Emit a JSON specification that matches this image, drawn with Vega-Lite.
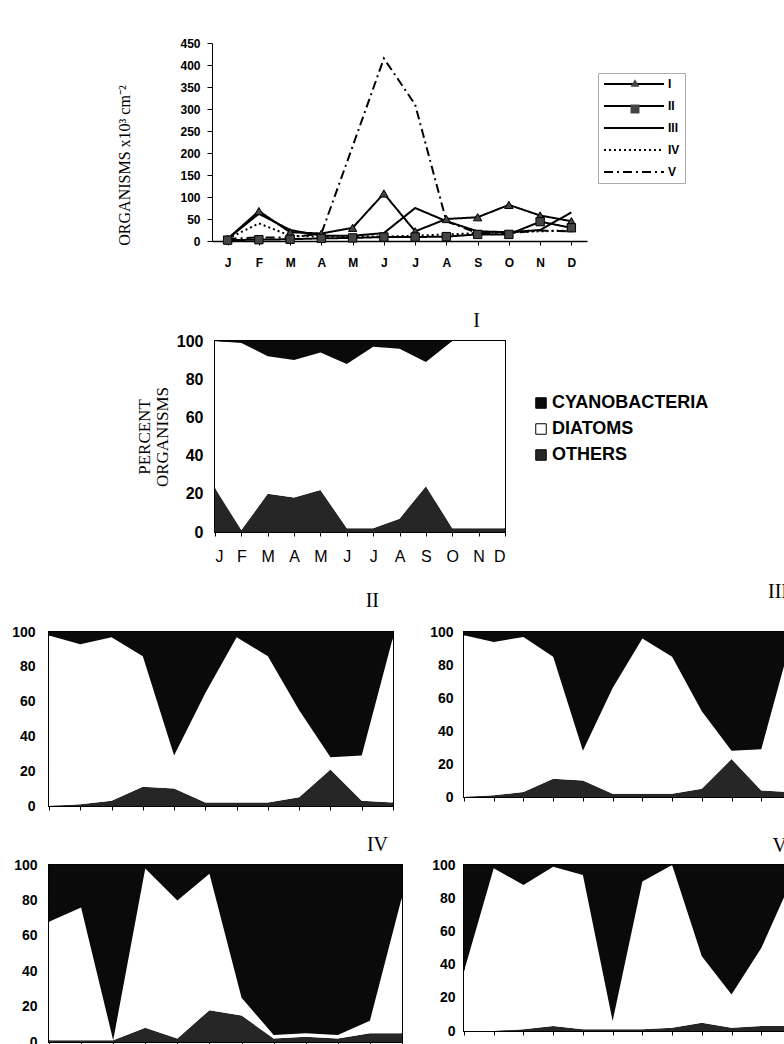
{
"$schema": "https://vega.github.io/schema/vega-lite/v6.json",
"background": "white",
"padding": {"left": 10, "top": 37, "right": 0, "bottom": 0},
"config": {
  "font": "Liberation Sans",
  "view": {"stroke": null},
  "axis": {"labelFont": "Liberation Sans", "labelFontWeight": "bold", "labelColor": "#000", "domainColor": "#000", "tickColor": "#000", "grid": false, "titleFont": "Liberation Serif", "titleFontWeight": "normal", "titleColor": "#000", "labelOverlap": false},
  "title": {"font": "Liberation Serif", "fontWeight": "normal", "fontSize": 20, "color": "#000", "anchor": "end", "frame": "group"}
},
"datasets": {
  "lines": [
    {"s":"I","m":1,"v":5},{"s":"I","m":2,"v":68},{"s":"I","m":3,"v":20},{"s":"I","m":4,"v":17},{"s":"I","m":5,"v":30},{"s":"I","m":6,"v":108},{"s":"I","m":7,"v":22},{"s":"I","m":8,"v":50},{"s":"I","m":9,"v":54},{"s":"I","m":10,"v":82},{"s":"I","m":11,"v":58},{"s":"I","m":12,"v":45},
    {"s":"II","m":1,"v":2},{"s":"II","m":2,"v":3},{"s":"II","m":3,"v":4},{"s":"II","m":4,"v":6},{"s":"II","m":5,"v":7},{"s":"II","m":6,"v":9},{"s":"II","m":7,"v":9},{"s":"II","m":8,"v":10},{"s":"II","m":9,"v":15},{"s":"II","m":10,"v":15},{"s":"II","m":11,"v":44},{"s":"II","m":12,"v":30},
    {"s":"III","m":1,"v":5},{"s":"III","m":2,"v":62},{"s":"III","m":3,"v":25},{"s":"III","m":4,"v":12},{"s":"III","m":5,"v":12},{"s":"III","m":6,"v":18},{"s":"III","m":7,"v":75},{"s":"III","m":8,"v":45},{"s":"III","m":9,"v":22},{"s":"III","m":10,"v":20},{"s":"III","m":11,"v":25},{"s":"III","m":12,"v":65},
    {"s":"IV","m":1,"v":5},{"s":"IV","m":2,"v":40},{"s":"IV","m":3,"v":12},{"s":"IV","m":4,"v":10},{"s":"IV","m":5,"v":10},{"s":"IV","m":6,"v":10},{"s":"IV","m":7,"v":12},{"s":"IV","m":8,"v":15},{"s":"IV","m":9,"v":18},{"s":"IV","m":10,"v":20},{"s":"IV","m":11,"v":22},{"s":"IV","m":12,"v":24},
    {"s":"V","m":1,"v":5},{"s":"V","m":2,"v":8},{"s":"V","m":3,"v":8},{"s":"V","m":4,"v":17},{"s":"V","m":5,"v":215},{"s":"V","m":6,"v":415},{"s":"V","m":7,"v":310},{"s":"V","m":8,"v":45},{"s":"V","m":9,"v":18},{"s":"V","m":10,"v":18},{"s":"V","m":11,"v":24},{"s":"V","m":12,"v":22}
  ],
  "comp": [
    {"p":"I","m":1,"k":"OTHERS","v":23},{"p":"I","m":1,"k":"DIATOMS","v":77},{"p":"I","m":1,"k":"CYANOBACTERIA","v":0},
    {"p":"I","m":2,"k":"OTHERS","v":1},{"p":"I","m":2,"k":"DIATOMS","v":98},{"p":"I","m":2,"k":"CYANOBACTERIA","v":1},
    {"p":"I","m":3,"k":"OTHERS","v":20},{"p":"I","m":3,"k":"DIATOMS","v":72},{"p":"I","m":3,"k":"CYANOBACTERIA","v":8},
    {"p":"I","m":4,"k":"OTHERS","v":18},{"p":"I","m":4,"k":"DIATOMS","v":72},{"p":"I","m":4,"k":"CYANOBACTERIA","v":10},
    {"p":"I","m":5,"k":"OTHERS","v":22},{"p":"I","m":5,"k":"DIATOMS","v":72},{"p":"I","m":5,"k":"CYANOBACTERIA","v":6},
    {"p":"I","m":6,"k":"OTHERS","v":2},{"p":"I","m":6,"k":"DIATOMS","v":86},{"p":"I","m":6,"k":"CYANOBACTERIA","v":12},
    {"p":"I","m":7,"k":"OTHERS","v":2},{"p":"I","m":7,"k":"DIATOMS","v":95},{"p":"I","m":7,"k":"CYANOBACTERIA","v":3},
    {"p":"I","m":8,"k":"OTHERS","v":7},{"p":"I","m":8,"k":"DIATOMS","v":89},{"p":"I","m":8,"k":"CYANOBACTERIA","v":4},
    {"p":"I","m":9,"k":"OTHERS","v":24},{"p":"I","m":9,"k":"DIATOMS","v":65},{"p":"I","m":9,"k":"CYANOBACTERIA","v":11},
    {"p":"I","m":10,"k":"OTHERS","v":2},{"p":"I","m":10,"k":"DIATOMS","v":98},{"p":"I","m":10,"k":"CYANOBACTERIA","v":0},
    {"p":"I","m":11,"k":"OTHERS","v":2},{"p":"I","m":11,"k":"DIATOMS","v":98},{"p":"I","m":11,"k":"CYANOBACTERIA","v":0},
    {"p":"I","m":12,"k":"OTHERS","v":2},{"p":"I","m":12,"k":"DIATOMS","v":98},{"p":"I","m":12,"k":"CYANOBACTERIA","v":0},

    {"p":"II","m":1,"k":"OTHERS","v":0},{"p":"II","m":1,"k":"DIATOMS","v":98},{"p":"II","m":1,"k":"CYANOBACTERIA","v":2},
    {"p":"II","m":2,"k":"OTHERS","v":1},{"p":"II","m":2,"k":"DIATOMS","v":92},{"p":"II","m":2,"k":"CYANOBACTERIA","v":7},
    {"p":"II","m":3,"k":"OTHERS","v":3},{"p":"II","m":3,"k":"DIATOMS","v":94},{"p":"II","m":3,"k":"CYANOBACTERIA","v":3},
    {"p":"II","m":4,"k":"OTHERS","v":11},{"p":"II","m":4,"k":"DIATOMS","v":75},{"p":"II","m":4,"k":"CYANOBACTERIA","v":14},
    {"p":"II","m":5,"k":"OTHERS","v":10},{"p":"II","m":5,"k":"DIATOMS","v":19},{"p":"II","m":5,"k":"CYANOBACTERIA","v":71},
    {"p":"II","m":6,"k":"OTHERS","v":2},{"p":"II","m":6,"k":"DIATOMS","v":63},{"p":"II","m":6,"k":"CYANOBACTERIA","v":35},
    {"p":"II","m":7,"k":"OTHERS","v":2},{"p":"II","m":7,"k":"DIATOMS","v":95},{"p":"II","m":7,"k":"CYANOBACTERIA","v":3},
    {"p":"II","m":8,"k":"OTHERS","v":2},{"p":"II","m":8,"k":"DIATOMS","v":84},{"p":"II","m":8,"k":"CYANOBACTERIA","v":14},
    {"p":"II","m":9,"k":"OTHERS","v":5},{"p":"II","m":9,"k":"DIATOMS","v":50},{"p":"II","m":9,"k":"CYANOBACTERIA","v":45},
    {"p":"II","m":10,"k":"OTHERS","v":21},{"p":"II","m":10,"k":"DIATOMS","v":7},{"p":"II","m":10,"k":"CYANOBACTERIA","v":72},
    {"p":"II","m":11,"k":"OTHERS","v":3},{"p":"II","m":11,"k":"DIATOMS","v":26},{"p":"II","m":11,"k":"CYANOBACTERIA","v":71},
    {"p":"II","m":12,"k":"OTHERS","v":2},{"p":"II","m":12,"k":"DIATOMS","v":95},{"p":"II","m":12,"k":"CYANOBACTERIA","v":3},

    {"p":"III","m":1,"k":"OTHERS","v":0},{"p":"III","m":1,"k":"DIATOMS","v":98},{"p":"III","m":1,"k":"CYANOBACTERIA","v":2},
    {"p":"III","m":2,"k":"OTHERS","v":1},{"p":"III","m":2,"k":"DIATOMS","v":93},{"p":"III","m":2,"k":"CYANOBACTERIA","v":6},
    {"p":"III","m":3,"k":"OTHERS","v":3},{"p":"III","m":3,"k":"DIATOMS","v":94},{"p":"III","m":3,"k":"CYANOBACTERIA","v":3},
    {"p":"III","m":4,"k":"OTHERS","v":11},{"p":"III","m":4,"k":"DIATOMS","v":74},{"p":"III","m":4,"k":"CYANOBACTERIA","v":15},
    {"p":"III","m":5,"k":"OTHERS","v":10},{"p":"III","m":5,"k":"DIATOMS","v":18},{"p":"III","m":5,"k":"CYANOBACTERIA","v":72},
    {"p":"III","m":6,"k":"OTHERS","v":2},{"p":"III","m":6,"k":"DIATOMS","v":64},{"p":"III","m":6,"k":"CYANOBACTERIA","v":34},
    {"p":"III","m":7,"k":"OTHERS","v":2},{"p":"III","m":7,"k":"DIATOMS","v":94},{"p":"III","m":7,"k":"CYANOBACTERIA","v":4},
    {"p":"III","m":8,"k":"OTHERS","v":2},{"p":"III","m":8,"k":"DIATOMS","v":83},{"p":"III","m":8,"k":"CYANOBACTERIA","v":15},
    {"p":"III","m":9,"k":"OTHERS","v":5},{"p":"III","m":9,"k":"DIATOMS","v":47},{"p":"III","m":9,"k":"CYANOBACTERIA","v":48},
    {"p":"III","m":10,"k":"OTHERS","v":23},{"p":"III","m":10,"k":"DIATOMS","v":5},{"p":"III","m":10,"k":"CYANOBACTERIA","v":72},
    {"p":"III","m":11,"k":"OTHERS","v":4},{"p":"III","m":11,"k":"DIATOMS","v":25},{"p":"III","m":11,"k":"CYANOBACTERIA","v":71},
    {"p":"III","m":12,"k":"OTHERS","v":3},{"p":"III","m":12,"k":"DIATOMS","v":92},{"p":"III","m":12,"k":"CYANOBACTERIA","v":5},

    {"p":"IV","m":1,"k":"OTHERS","v":1},{"p":"IV","m":1,"k":"DIATOMS","v":67},{"p":"IV","m":1,"k":"CYANOBACTERIA","v":32},
    {"p":"IV","m":2,"k":"OTHERS","v":1},{"p":"IV","m":2,"k":"DIATOMS","v":75},{"p":"IV","m":2,"k":"CYANOBACTERIA","v":24},
    {"p":"IV","m":3,"k":"OTHERS","v":1},{"p":"IV","m":3,"k":"DIATOMS","v":0},{"p":"IV","m":3,"k":"CYANOBACTERIA","v":99},
    {"p":"IV","m":4,"k":"OTHERS","v":8},{"p":"IV","m":4,"k":"DIATOMS","v":90},{"p":"IV","m":4,"k":"CYANOBACTERIA","v":2},
    {"p":"IV","m":5,"k":"OTHERS","v":2},{"p":"IV","m":5,"k":"DIATOMS","v":78},{"p":"IV","m":5,"k":"CYANOBACTERIA","v":20},
    {"p":"IV","m":6,"k":"OTHERS","v":18},{"p":"IV","m":6,"k":"DIATOMS","v":77},{"p":"IV","m":6,"k":"CYANOBACTERIA","v":5},
    {"p":"IV","m":7,"k":"OTHERS","v":15},{"p":"IV","m":7,"k":"DIATOMS","v":10},{"p":"IV","m":7,"k":"CYANOBACTERIA","v":75},
    {"p":"IV","m":8,"k":"OTHERS","v":2},{"p":"IV","m":8,"k":"DIATOMS","v":2},{"p":"IV","m":8,"k":"CYANOBACTERIA","v":96},
    {"p":"IV","m":9,"k":"OTHERS","v":3},{"p":"IV","m":9,"k":"DIATOMS","v":2},{"p":"IV","m":9,"k":"CYANOBACTERIA","v":95},
    {"p":"IV","m":10,"k":"OTHERS","v":2},{"p":"IV","m":10,"k":"DIATOMS","v":2},{"p":"IV","m":10,"k":"CYANOBACTERIA","v":96},
    {"p":"IV","m":11,"k":"OTHERS","v":5},{"p":"IV","m":11,"k":"DIATOMS","v":7},{"p":"IV","m":11,"k":"CYANOBACTERIA","v":88},
    {"p":"IV","m":12,"k":"OTHERS","v":5},{"p":"IV","m":12,"k":"DIATOMS","v":77},{"p":"IV","m":12,"k":"CYANOBACTERIA","v":18},

    {"p":"V","m":1,"k":"OTHERS","v":0},{"p":"V","m":1,"k":"DIATOMS","v":36},{"p":"V","m":1,"k":"CYANOBACTERIA","v":64},
    {"p":"V","m":2,"k":"OTHERS","v":0},{"p":"V","m":2,"k":"DIATOMS","v":98},{"p":"V","m":2,"k":"CYANOBACTERIA","v":2},
    {"p":"V","m":3,"k":"OTHERS","v":1},{"p":"V","m":3,"k":"DIATOMS","v":87},{"p":"V","m":3,"k":"CYANOBACTERIA","v":12},
    {"p":"V","m":4,"k":"OTHERS","v":3},{"p":"V","m":4,"k":"DIATOMS","v":96},{"p":"V","m":4,"k":"CYANOBACTERIA","v":1},
    {"p":"V","m":5,"k":"OTHERS","v":1},{"p":"V","m":5,"k":"DIATOMS","v":93},{"p":"V","m":5,"k":"CYANOBACTERIA","v":6},
    {"p":"V","m":6,"k":"OTHERS","v":1},{"p":"V","m":6,"k":"DIATOMS","v":5},{"p":"V","m":6,"k":"CYANOBACTERIA","v":94},
    {"p":"V","m":7,"k":"OTHERS","v":1},{"p":"V","m":7,"k":"DIATOMS","v":89},{"p":"V","m":7,"k":"CYANOBACTERIA","v":10},
    {"p":"V","m":8,"k":"OTHERS","v":2},{"p":"V","m":8,"k":"DIATOMS","v":98},{"p":"V","m":8,"k":"CYANOBACTERIA","v":0},
    {"p":"V","m":9,"k":"OTHERS","v":5},{"p":"V","m":9,"k":"DIATOMS","v":40},{"p":"V","m":9,"k":"CYANOBACTERIA","v":55},
    {"p":"V","m":10,"k":"OTHERS","v":2},{"p":"V","m":10,"k":"DIATOMS","v":20},{"p":"V","m":10,"k":"CYANOBACTERIA","v":78},
    {"p":"V","m":11,"k":"OTHERS","v":3},{"p":"V","m":11,"k":"DIATOMS","v":47},{"p":"V","m":11,"k":"CYANOBACTERIA","v":50},
    {"p":"V","m":12,"k":"OTHERS","v":3},{"p":"V","m":12,"k":"DIATOMS","v":87},{"p":"V","m":12,"k":"CYANOBACTERIA","v":10}
  ]
},
"resolve": {"scale": {"fill": "independent"}, "legend": {"fill": "independent"}},
"spacing": 20,
"vconcat": [
  {
    "spacing": 16,
    "resolve": {"scale": {"fill": "independent"}, "legend": {"fill": "independent"}},
    "vconcat": [
      {
        "spacing": 0,
        "resolve": {"scale": {"strokeDash": "independent", "shape": "independent"}, "legend": {"strokeDash": "independent", "shape": "independent"}},
        "hconcat": [
          {"width": 67, "height": 251, "data": {"values": []}, "mark": {"type": "point", "opacity": 0}},
          {
            "width": 375, "height": 198,
            "data": {"name": "lines"},
            "encoding": {
              "x": {"field": "m", "type": "ordinal", "scale": {"type": "point", "padding": 0.5},
                    "axis": {"title": null, "labelAngle": 0, "labelFontSize": 12, "tickSize": 4, "labelPadding": 12, "domainWidth": 1.5,
                             "labelExpr": "['J','F','M','A','M','J','J','A','S','O','N','D'][datum.value-1]"}},
              "y": {"field": "v", "type": "quantitative", "scale": {"domain": [0, 450], "nice": false},
                    "axis": {"title": "ORGANISMS x10³ cm⁻²", "titleFontSize": 16, "titlePadding": 47, "titleY": 122,
                             "values": [0,50,100,150,200,250,300,350,400,450], "labelOverlap": false, "labelFontSize": 12, "tickSize": 5, "labelPadding": 7}}
            },
            "layer": [
              {
                "mark": {"type": "line", "color": "#000", "strokeWidth": 2},
                "encoding": {
                  "strokeDash": {"field": "s", "type": "nominal",
                        "scale": {"domain": ["I","II","III","IV","V"], "range": [[1,0],[1,0],[1,0],[2,3],[9,4,2,4]]},
                        "legend": {"orient": "none", "legendX": 386, "legendY": 30, "title": null,
                                   "symbolType": "M-6,0H6", "symbolSize": 100, "symbolOffset": 25, "symbolStrokeWidth": 2, "symbolStrokeColor": "#000",
                                   "labelFont": "Liberation Sans", "labelFontSize": 12, "labelFontWeight": "bold", "labelColor": "#000",
                                   "rowPadding": 10, "labelOffset": 28, "padding": 5, "strokeColor": "#aaa"}}
                }
              },
              {
                "transform": [{"filter": "datum.s == 'I' || datum.s == 'II'"}],
                "mark": {"type": "point", "filled": true, "fill": "#444", "stroke": "#000", "strokeWidth": 1, "size": 70, "opacity": 1},
                "encoding": {
                  "shape": {"field": "s", "type": "nominal", "scale": {"domain": ["I","II"], "range": ["triangle-up","square"]},
                            "legend": {"orient": "none", "legendX": 413, "legendY": 30, "title": null, "labelExpr": "''",
                                       "symbolSize": 80, "symbolFillColor": "#444", "symbolStrokeColor": "#000", "symbolStrokeWidth": 1,
                                       "rowPadding": 13, "padding": 5}}
                }
              }
            ]
          }
        ]
      },
      {
        "spacing": 0,
        "resolve": {"scale": {"fill": "independent"}, "legend": {"fill": "independent"}},
        "hconcat": [
          {"width": 85, "height": 1, "data": {"values": []}, "mark": {"type": "point", "opacity": 0}},
          {
            "width": 290, "height": 191,
            "data": {"name": "comp"},
            "transform": [{"filter": "datum.p == 'I'"}],
            "title": {"text": "I", "offset": 2, "dx": -25},
            "view": {"stroke": "#000", "strokeWidth": 2},
            "mark": {"type": "area"},
            "encoding": {
              "x": {"field": "m", "type": "quantitative", "scale": {"domain": [1, 12], "nice": false},
                    "axis": {"title": null, "values": [1,2,3,4,5,6,7,8,9,10,11,12], "labelFontSize": 16, "labelFontWeight": "normal", "tickSize": 4, "labelPadding": 12, "domain": false,
                             "labelExpr": "['J','F','M','A','M','J','J','A','S','O','N','D'][datum.value-1]"}},
              "y": {"field": "v", "type": "quantitative", "stack": "zero", "scale": {"domain": [0, 100], "nice": false},
                    "axis": {"title": ["PERCENT", "ORGANISMS"], "titleFontSize": 17, "titleLineHeight": 18, "titlePadding": 5,
                             "values": [0,20,40,60,80,100], "labelFontSize": 16, "ticks": false, "labelPadding": 12, "domain": false}},
              "fill": {"field": "k", "type": "nominal",
                       "scale": {"domain": ["CYANOBACTERIA","DIATOMS","OTHERS"], "range": ["#0a0a0a","#ffffff","#262626"]},
                       "legend": {"orient": "none", "legendX": 317, "legendY": 53, "title": null, "symbolType": "square", "symbolSize": 110,
                                  "symbolStrokeColor": "#000", "symbolStrokeWidth": 1, "labelFont": "Liberation Sans", "labelFontSize": 18,
                                  "labelFontWeight": "bold", "labelColor": "#000", "rowPadding": 8, "labelOffset": 2, "padding": 0}},
              "order": {"field": "k", "sort": "descending"}
            }
          }
        ]
      },
      {
        "spacing": 33,
        "hconcat": [
          {
            "width": 344, "height": 174,
            "data": {"name": "comp"},
            "transform": [{"filter": "datum.p == 'II'"}],
            "title": {"text": "II", "offset": 14, "dx": -14},
            "view": {"stroke": "#000", "strokeWidth": 2},
            "mark": {"type": "area"},
            "encoding": {
              "x": {"field": "m", "type": "quantitative", "scale": {"domain": [1, 12], "nice": false},
                    "axis": {"title": null, "values": [1,2,3,4,5,6,7,8,9,10,11,12], "labels": false, "tickSize": 4, "domain": false}},
              "y": {"field": "v", "type": "quantitative", "stack": "zero", "scale": {"domain": [0, 100], "nice": false},
                    "axis": {"title": null, "values": [0,20,40,60,80,100], "labelFontSize": 14, "ticks": false, "labelPadding": 14, "domain": false}},
              "fill": {"field": "k", "type": "nominal", "scale": {"domain": ["CYANOBACTERIA","DIATOMS","OTHERS"], "range": ["#0a0a0a","#ffffff","#262626"]}, "legend": null},
              "order": {"field": "k", "sort": "descending"}
            }
          },
          {
            "width": 327, "height": 165,
            "data": {"name": "comp"},
            "transform": [{"filter": "datum.p == 'III'"}],
            "title": {"text": "III", "offset": 23, "dx": -3},
            "view": {"stroke": "#000", "strokeWidth": 2},
            "mark": {"type": "area"},
            "encoding": {
              "x": {"field": "m", "type": "quantitative", "scale": {"domain": [1, 12], "nice": false},
                    "axis": {"title": null, "values": [1,2,3,4,5,6,7,8,9,10,11,12], "labels": false, "tickSize": 4, "domain": false}},
              "y": {"field": "v", "type": "quantitative", "stack": "zero", "scale": {"domain": [0, 100], "nice": false},
                    "axis": {"title": null, "values": [0,20,40,60,80,100], "labelFontSize": 14, "ticks": false, "labelPadding": 11, "domain": false}},
              "fill": {"field": "k", "type": "nominal", "scale": {"domain": ["CYANOBACTERIA","DIATOMS","OTHERS"], "range": ["#0a0a0a","#ffffff","#262626"]}, "legend": null},
              "order": {"field": "k", "sort": "descending"}
            }
          }
        ]
      }
    ]
  },
  {
    "spacing": 26,
    "hconcat": [
      {
        "width": 353, "height": 177,
        "data": {"name": "comp"},
        "transform": [{"filter": "datum.p == 'IV'"}],
        "title": {"text": "IV", "offset": 3, "dx": -14},
        "view": {"stroke": "#000", "strokeWidth": 2},
        "mark": {"type": "area"},
        "encoding": {
          "x": {"field": "m", "type": "quantitative", "scale": {"domain": [1, 12], "nice": false},
                "axis": {"title": null, "values": [1,2,3,4,5,6,7,8,9,10,11,12], "labels": false, "tickSize": 4, "domain": false}},
          "y": {"field": "v", "type": "quantitative", "stack": "zero", "scale": {"domain": [0, 100], "nice": false},
                "axis": {"title": null, "values": [0,20,40,60,80,100], "labelFontSize": 14, "ticks": false, "labelPadding": 12, "domain": false}},
          "fill": {"field": "k", "type": "nominal", "scale": {"domain": ["CYANOBACTERIA","DIATOMS","OTHERS"], "range": ["#0a0a0a","#ffffff","#262626"]}, "legend": null},
          "order": {"field": "k", "sort": "descending"}
        }
      },
      {
        "width": 327, "height": 166,
        "data": {"name": "comp"},
        "transform": [{"filter": "datum.p == 'V'"}],
        "title": {"text": "V", "offset": 2, "dx": -4},
        "view": {"stroke": "#000", "strokeWidth": 2},
        "mark": {"type": "area"},
        "encoding": {
          "x": {"field": "m", "type": "quantitative", "scale": {"domain": [1, 12], "nice": false},
                "axis": {"title": null, "values": [1,2,3,4,5,6,7,8,9,10,11,12], "labels": false, "tickSize": 4, "domain": false}},
          "y": {"field": "v", "type": "quantitative", "stack": "zero", "scale": {"domain": [0, 100], "nice": false},
                "axis": {"title": null, "values": [0,20,40,60,80,100], "labelFontSize": 14, "ticks": false, "labelPadding": 9, "domain": false}},
          "fill": {"field": "k", "type": "nominal", "scale": {"domain": ["CYANOBACTERIA","DIATOMS","OTHERS"], "range": ["#0a0a0a","#ffffff","#262626"]}, "legend": null},
          "order": {"field": "k", "sort": "descending"}
        }
      }
    ]
  }
]
}
